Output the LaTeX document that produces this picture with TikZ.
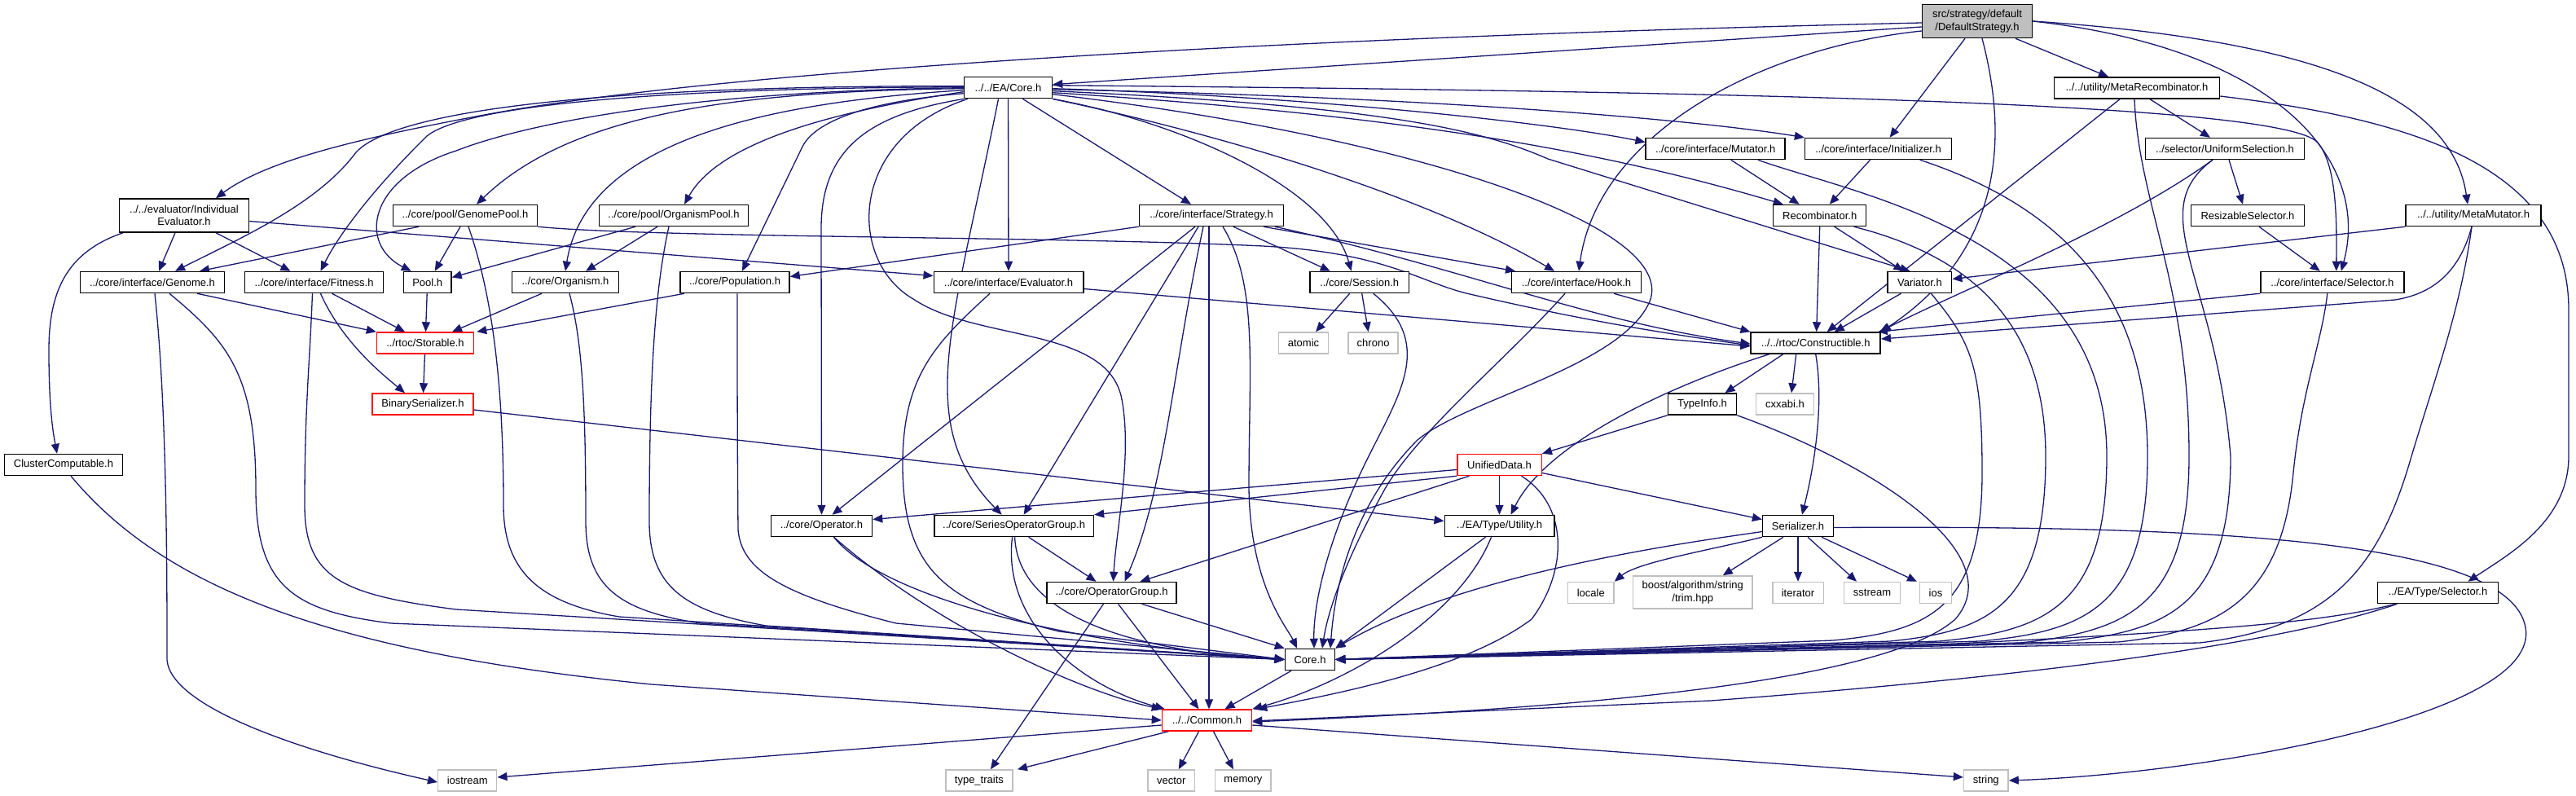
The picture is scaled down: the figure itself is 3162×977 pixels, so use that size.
\documentclass[tikz,border=0pt]{standalone}
\usepackage{fontspec}
\setmainfont{Liberation Sans}
\usetikzlibrary{arrows.meta}
\definecolor{edgeblue}{HTML}{191970}
\definecolor{greyline}{HTML}{BFBFBF}
\definecolor{rootgrey}{HTML}{BFBFBF}
\pgfdeclarelayer{bg}
\pgfsetlayers{bg,main}
\tikzset{
 hbox/.style={draw=black, line width=1.5pt, fill=white, inner sep=0pt, minimum height=26pt, font=\fontsize{13}{15.5}\selectfont, align=center, text=black},
 gbox/.style={hbox, draw=greyline},
 rbox/.style={hbox, draw=red},
 rootbox/.style={hbox, fill=rootgrey},
 dep/.style={draw=edgeblue, line width=1.3pt, -{Triangle[length=12pt,width=10pt]}},
}
\begin{document}
\begin{tikzpicture}[x=1pt,y=-1pt]
\useasboundingbox (0,0) rectangle (3162,977);
% ---------------- nodes
\node[rootbox, minimum width=135pt, minimum height=41pt] (root) at (2427,26) {src/strategy/default\\/DefaultStrategy.h};
\node[hbox, minimum width=108pt] (eacore) at (1237.5,107.7) {../../EA/Core.h};
\node[hbox, minimum width=203pt] (metarec) at (2623,108) {../../utility/MetaRecombinator.h};
\node[hbox, minimum width=159pt, minimum height=41pt] (ie) at (226,264.5) {../../evaluator/Individual\\Evaluator.h};
\node[hbox, minimum width=177pt] (genomepool) at (571,264.5) {../core/pool/GenomePool.h};
\node[hbox, minimum width=183pt] (orgpool) at (827,264.5) {../core/pool/OrganismPool.h};
\node[hbox, minimum width=177pt] (strategy) at (1487,264.5) {../core/interface/Strategy.h};
\node[hbox, minimum width=171pt] (mutator) at (2105.7,182.5) {../core/interface/Mutator.h};
\node[hbox, minimum width=180pt] (init) at (2305.6,182.5) {../core/interface/Initializer.h};
\node[hbox, minimum width=195pt] (unisel) at (2731,182.5) {../selector/UniformSelection.h};
\node[hbox, minimum width=114pt] (recomb) at (2233.7,264.5) {Recombinator.h};
\node[hbox, minimum width=139pt] (ressel) at (2759,264.5) {ResizableSelector.h};
\node[hbox, minimum width=166pt] (metamut) at (3036,264.5) {../../utility/MetaMutator.h};
\node[hbox, minimum width=177pt] (genome) at (187,346.5) {../core/interface/Genome.h};
\node[hbox, minimum width=170pt] (fitness) at (385.5,346.5) {../core/interface/Fitness.h};
\node[hbox, minimum width=58.5pt] (pool) at (524.7,346.5) {Pool.h};
\node[hbox, minimum width=131pt] (organism) at (694,346.5) {../core/Organism.h};
\node[hbox, minimum width=134pt] (population) at (902,346.5) {../core/Population.h};
\node[hbox, minimum width=183.5pt] (evaluator) at (1238,346.5) {../core/interface/Evaluator.h};
\node[hbox, minimum width=121.6pt] (session) at (1668.7,346.5) {../core/Session.h};
\node[hbox, minimum width=158.6pt] (hook) at (1935,346.5) {../core/interface/Hook.h};
\node[hbox, minimum width=78.6pt] (variator) at (2356.4,346.5) {Variator.h};
\node[hbox, minimum width=176pt] (csel) at (2862.8,346.5) {../core/interface/Selector.h};
\node[rbox, minimum width=119pt] (storable) at (522,421) {../rtoc/Storable.h};
\node[gbox, minimum width=61pt] (atomic) at (1600,421) {atomic};
\node[gbox, minimum width=61pt] (chrono) at (1685.6,421) {chrono};
\node[hbox, minimum width=159pt] (constr) at (2228.7,421) {../../rtoc/Constructible.h};
\node[rbox, minimum width=124pt] (binser) at (519,496) {BinarySerializer.h};
\node[hbox, minimum width=84pt] (typeinfo) at (2089.5,496) {TypeInfo.h};
\node[gbox, minimum width=70.6pt] (cxxabi) at (2191,496) {cxxabi.h};
\node[hbox, minimum width=145pt] (cluster) at (78,570.5) {ClusterComputable.h};
\node[rbox, minimum width=103.5pt] (unified) at (1840.5,570.5) {UnifiedData.h};
\node[hbox, minimum width=124pt] (operator) at (1008.5,645.5) {../core/Operator.h};
\node[hbox, minimum width=195.6pt] (seriesop) at (1244.6,645.5) {../core/SeriesOperatorGroup.h};
\node[hbox, minimum width=134.5pt] (utility) at (1840.5,645.5) {../EA/Type/Utility.h};
\node[hbox, minimum width=86.7pt] (serializer) at (2207,645.5) {Serializer.h};
\node[hbox, minimum width=148pt] (easel) at (2992.5,727.5) {../EA/Type/Selector.h};
\node[hbox, minimum width=158.6pt] (opgroup) at (1364.5,727.5) {../core/OperatorGroup.h};
\node[gbox, minimum width=56.5pt] (locale) at (1952.8,727.5) {locale};
\node[gbox, minimum width=146.5pt, minimum height=40pt] (boost) at (2077.7,727) {boost/algorithm/string\\/trim.hpp};
\node[gbox, minimum width=62.5pt] (iterator) at (2207,727.5) {iterator};
\node[gbox, minimum width=69pt] (sstream) at (2298,727.5) {sstream};
\node[gbox, minimum width=39pt] (ios) at (2376,727.5) {ios};
\node[hbox, minimum width=61pt] (rcore) at (1608,809.5) {Core.h};
\node[rbox, minimum width=110pt] (common) at (1481.5,884) {../../Common.h};
\node[gbox, minimum width=72pt] (iostream) at (573.7,958) {iostream};
\node[gbox, minimum width=82pt] (typetraits) at (1201.9,958) {type\_traits};
\node[gbox, minimum width=57.8pt] (vector) at (1437.8,958) {vector};
\node[gbox, minimum width=68.6pt] (memory) at (1525.9,958) {memory};
\node[gbox, minimum width=54.5pt] (string) at (2437.8,958) {string};
% ---------------- edges
\begin{pgfonlayer}{bg}
\fill[white] (0,0) rectangle (3162,977);
% root
\path[dep] ([yshift=-7pt]root.west) -- ([yshift=4pt]eacore.east);
\path[dep] ([yshift=-2pt]root.west) .. controls (1600,45) and (900,85) .. (600,140) .. controls (450,168) and (330,195) .. ([xshift=39pt]ie.north);
\path[dep] ([xshift=-15pt]root.south) -- ([xshift=14pt]init.north);
\path[dep] ([xshift=47pt]root.south) -- ([xshift=-35pt]metarec.north);
\path[dep] ([xshift=6pt]root.south) .. controls (2460,150) and (2470,300) .. (constr.north east);
\path[dep] (root.east) .. controls (2800,60) and (2910,200) .. ([xshift=11pt]csel.north);
\path[dep] (root.east) .. controls (2850,50) and (3010,120) .. ([xshift=-7pt]metamut.north);
\path[dep] ([yshift=-12pt]root.west) .. controls (2150,60) and (1960,170) .. ([xshift=3pt]hook.north);
% metarecombinator
\path[dep] ([xshift=-21pt]metarec.south) -- ([xshift=14pt]constr.north);
\path[dep] ([xshift=16pt]metarec.south) -- ([xshift=-18pt]unisel.north);
\path[dep] ([yshift=-10pt]metarec.east) .. controls (2950,145) and (3153,200) .. (3153,380) -- (3153,560) .. controls (3153,640) and (3080,680) .. ([xshift=37pt]easel.north);
\path[dep] ([xshift=-3pt]metarec.south) .. controls (2625,250) and (2687,350) .. (2687,560) .. controls (2687,745) and (2610,775) .. (2480,789) -- (rcore.east);
% metamutator
\path[dep] (metamut.south west) -- ([yshift=4pt]variator.east);
\path[dep] ([xshift=-2pt]metamut.south) .. controls (3020,330) and (2990,360) .. (2940,368) -- ([yshift=5pt]constr.east);
\path[dep] ([xshift=-2pt]metamut.south) .. controls (3020,380) and (2990,460) .. (2960,560) .. controls (2920,700) and (2860,770) .. (2700,789) -- (rcore.east);
% uniform selection / resizable / selector
\path[dep] ([xshift=5pt]unisel.south) -- ([xshift=-6pt]ressel.north);
\path[dep] ([xshift=-15pt]unisel.south) .. controls (2600,280) and (2420,350) .. ([xshift=-2pt]constr.north east);
\path[dep] ([xshift=-15pt]unisel.south) .. controls (2630,260) and (2720,340) .. (2738,560) .. controls (2738,745) and (2660,775) .. (2530,788) -- (rcore.east);
\path[dep] ([xshift=14pt]ressel.south) -- ([xshift=-15pt]csel.north);
\path[dep] (csel.south west) -- ([xshift=-4pt]constr.north east);
\path[dep] ([xshift=-6pt]csel.south) .. controls (2850,420) and (2825,480) .. (2815,580) .. controls (2800,740) and (2720,775) .. (2600,788) -- (rcore.east);
% initializer / mutator / recombinator / variator
\path[dep] ([xshift=-10pt]init.south) -- ([xshift=12pt]recomb.north);
\path[dep] ([xshift=51pt]init.south) .. controls (2550,260) and (2636,380) .. (2636,560) .. controls (2636,745) and (2560,775) .. (2430,787) -- (rcore.east);
\path[dep] ([xshift=19pt]mutator.south) -- ([xshift=-25pt]recomb.north);
\path[dep] ([xshift=52pt]mutator.south) .. controls (2280,240) and (2586,290) .. (2586,560) .. controls (2586,745) and (2510,775) .. (2380,787) -- (rcore.east);
\path[dep] (recomb.south) -- ([xshift=1pt]constr.north);
\path[dep] ([xshift=18pt]recomb.south) -- ([xshift=-20pt]variator.north);
\path[dep] ([xshift=42pt]recomb.south) .. controls (2400,310) and (2511,380) .. (2511,560) .. controls (2511,745) and (2440,775) .. (2320,787) -- (rcore.east);
\path[dep] ([xshift=-23pt]variator.south) -- ([xshift=23pt]constr.north);
\path[dep] ([xshift=14pt]variator.south) .. controls (2420,420) and (2433,450) .. (2433,580) .. controls (2433,745) and (2370,775) .. (2250,786) -- (rcore.east);
% EA core, left side
\path[dep] ([yshift=2pt]eacore.west) .. controls (700,105) and (480,140) .. (437,187) .. controls (390,250) and (300,290) .. ([xshift=28pt]genome.north);
\path[dep] ([yshift=1pt]eacore.west) .. controls (800,108) and (570,130) .. (524,167) .. controls (470,220) and (420,280) .. ([xshift=8pt]fitness.north);
\path[dep] (eacore.west) .. controls (850,112) and (650,150) .. (560,185) .. controls (450,220) and (440,300) .. ([xshift=-20pt]pool.north);
\path[dep] ([yshift=-1pt]eacore.west) .. controls (900,112) and (700,140) .. ([xshift=14pt]genomepool.north);
\path[dep] ([yshift=-3pt]eacore.west) .. controls (950,125) and (720,170) .. (organism.north);
\path[dep] ([yshift=-5pt]eacore.west) .. controls (1000,140) and (880,180) .. ([xshift=13pt]orgpool.north);
\path[dep] ([yshift=-7pt]eacore.west) .. controls (1060,125) and (1000,150) .. (985,180) -- ([xshift=9pt]population.north);
\path[dep] (eacore.south west) .. controls (1070,140) and (1008,180) .. (1008,280) -- (operator.north);
\path[dep] ([xshift=5pt]eacore.south west) .. controls (1040,170) and (1040,320) .. (1121,367) .. controls (1200,420) and (1360,400) .. (1377,490) .. controls (1390,560) and (1370,650) .. ([xshift=2pt]opgroup.north);
\path[dep] ([xshift=-12pt]eacore.south) .. controls (1170,400) and (1120,520) .. ([xshift=-15pt]seriesop.north);
\path[dep] (eacore) -- (evaluator);
\path[dep] ([xshift=18pt]eacore.south) -- ([xshift=-25pt]strategy.north);
% EA core, right side
\path[dep] (eacore.south east) .. controls (1450,150) and (1630,230) .. ([xshift=-10pt]session.north);
\path[dep] (eacore.south east) .. controls (1500,165) and (1750,240) .. ([xshift=-27pt]hook.north);
\path[dep] ([yshift=-1pt]eacore.east) .. controls (1600,118) and (1900,150) .. ([yshift=8pt]mutator.west);
\path[dep] ([yshift=-2pt]eacore.east) .. controls (1800,120) and (2100,150) .. (init.north west);
\path[dep] ([yshift=-6pt]eacore.east) .. controls (1700,140) and (1950,180) .. ([xshift=-45pt]recomb.north);
\path[dep] ([yshift=-4pt]eacore.east) .. controls (1700,130) and (1820,160) .. (1900,195) -- ([xshift=-12pt]variator.north);
\path[dep] ([yshift=3pt]eacore.east) .. controls (2100,112) and (2800,125) .. (2845,175) .. controls (2870,205) and (2868,280) .. ([xshift=5pt]csel.north);
\path[dep] ([yshift=-8pt]eacore.east) .. controls (1750,170) and (2060,280) .. (2025,370) .. controls (1990,450) and (1800,490) .. (1740,540) .. controls (1670,610) and (1640,700) .. ([xshift=25pt]rcore.north);
% individual evaluator
\path[dep] ([xshift=-11pt]ie.south) -- ([xshift=8pt]genome.north);
\path[dep] ([xshift=39pt]ie.south) -- ([xshift=-29pt]fitness.north);
\path[dep] ([yshift=-7pt]ie.east) -- ([yshift=8pt]evaluator.west);
\path[dep] ([xshift=-75pt]ie.south) .. controls (80,310) and (60,360) .. (60,430) .. controls (60,500) and (65,530) .. ([xshift=-8pt]cluster.north);
% pools
\path[dep] ([xshift=-57pt]genomepool.south) -- ([xshift=58pt]genome.north);
\path[dep] ([xshift=-6pt]genomepool.south) -- ([xshift=9pt]pool.north);
\path[dep] (genomepool.south east) .. controls (800,292) and (1300,290) .. (1550,302) .. controls (1700,310) and (1740,345) .. (1800,360) .. controls (1950,395) and (2050,410) .. ([yshift=-3pt]constr.west);
\path[dep] ([xshift=4pt]genomepool.south) .. controls (600,350) and (618,450) .. (618,620) .. controls (618,700) and (660,740) .. (760,757) -- (rcore.west);
\path[dep] ([xshift=-47pt]orgpool.south) -- ([yshift=6pt]pool.east);
\path[dep] ([xshift=-20pt]orgpool.south) -- ([xshift=25pt]organism.north);
\path[dep] ([xshift=-6pt]orgpool.south) .. controls (805,350) and (797,450) .. (797,640) .. controls (797,720) and (840,750) .. (940,768) -- (rcore.west);
% genome / fitness / pool / organism / population
\path[dep] ([xshift=55pt]genome.south) -- (storable.north west);
\path[dep] ([xshift=3pt]genome.south) .. controls (205,500) and (205,700) .. (205,810) .. controls (210,870) and (380,925) .. ([yshift=-2pt]iostream.west);
\path[dep] ([xshift=21pt]genome.south) .. controls (280,420) and (314,460) .. (314,600) .. controls (314,720) and (360,750) .. (480,765) -- (rcore.west);
\path[dep] ([xshift=22pt]fitness.south) -- ([xshift=-25pt]storable.north);
\path[dep] ([xshift=8pt]fitness.south) .. controls (420,420) and (470,460) .. ([xshift=-22pt]binser.north);
\path[dep] ([xshift=-2pt]fitness.south) .. controls (380,450) and (374,500) .. (374,620) .. controls (374,710) and (420,730) .. (560,748) -- (rcore.west);
\path[dep] (pool) -- (storable);
\path[dep] ([xshift=-29pt]organism.south) -- ([xshift=33pt]storable.north);
\path[dep] ([xshift=5pt]organism.south) .. controls (715,420) and (719,500) .. (719,640) .. controls (719,720) and (760,750) .. (860,765) -- (rcore.west);
\path[dep] ([xshift=-62pt]population.south) -- ([xshift=3pt]storable.north east);
\path[dep] ([xshift=3pt]population.south) .. controls (905,450) and (905,550) .. (906,650) .. controls (910,700) and (960,730) .. (1100,765) -- (rcore.west);
\path[dep] (storable) -- (binser);
\path[dep] ([yshift=-7pt]binser.east) -- ([yshift=6pt]utility.west);
\path[dep] ([xshift=9pt]cluster.south) .. controls (200,720) and (400,800) .. (800,840) -- (common.west);
% evaluator
\path[dep] ([yshift=-8pt]evaluator.east) -- ([yshift=-4pt]constr.west);
\path[dep] ([xshift=-23pt]evaluator.south) .. controls (1150,420) and (1108,460) .. (1108,570) .. controls (1108,700) and (1160,740) .. (1300,775) -- (rcore.west);
% strategy
\path[dep] (strategy.south west) -- ([yshift=7pt]population.east);
\path[dep] ([xshift=-20pt]strategy.south) -- ([xshift=13pt]operator.north);
\path[dep] ([xshift=-16pt]strategy.south) -- ([xshift=12pt]seriesop.north);
\path[dep] ([xshift=-10pt]strategy.south) .. controls (1440,450) and (1430,600) .. ([xshift=16pt]opgroup.north);
\path[dep] ([xshift=-3pt]strategy.south) -- ([xshift=2.5pt]common.north);
\path[dep] ([xshift=14pt]strategy.south) .. controls (1545,350) and (1533,450) .. (1533,600) .. controls (1535,720) and (1580,770) .. ([xshift=-16pt]rcore.north);
\path[dep] ([xshift=27pt]strategy.south) -- ([xshift=-36pt]session.north);
\path[dep] ([xshift=64pt]strategy.south) -- ([xshift=-75pt]hook.north);
\path[dep] ([xshift=78pt]strategy.south) .. controls (1800,330) and (1950,395) .. ([yshift=-1pt]constr.west);
% session / hook
\path[dep] ([xshift=-12pt]session.south) -- ([xshift=15pt]atomic.north);
\path[dep] ([xshift=3pt]session.south) -- ([xshift=-6pt]chrono.north);
\path[dep] ([xshift=17pt]session.south) .. controls (1760,420) and (1720,480) .. (1680,560) .. controls (1630,660) and (1612,740) .. ([xshift=5pt]rcore.north);
\path[dep] ([xshift=46pt]hook.south) -- (constr.north west);
\path[dep] ([xshift=-14pt]hook.south) .. controls (1850,440) and (1740,530) .. (1700,600) .. controls (1650,690) and (1630,750) .. ([xshift=15pt]rcore.north);
% constructible
\path[dep] ([xshift=-40pt]constr.south) -- ([xshift=28pt]typeinfo.north);
\path[dep] ([xshift=-24pt]constr.south) -- ([xshift=8pt]cxxabi.north);
\path[dep] (constr.south) .. controls (2240,500) and (2225,580) .. ([xshift=5pt]serializer.north);
\path[dep] ([xshift=-57pt]constr.south) .. controls (2060,470) and (1900,540) .. ([xshift=14pt]utility.north);
% typeinfo / unified
\path[dep] (typeinfo.south west) -- (unified.north east);
\path[dep] (typeinfo.south east) .. controls (2300,570) and (2470,680) .. (2400,760) .. controls (2300,850) and (1800,875) .. ([yshift=-2pt]common.east);
\path[dep] ([yshift=-6pt]unified.west) -- ([yshift=8pt]operator.east);
\path[dep] (unified.south west) -- (seriesop.north east);
\path[dep] ([xshift=-37pt]unified.south) -- ([xshift=35pt]opgroup.north);
\path[dep] (unified) -- (utility);
\path[dep] ([xshift=27pt]unified.south) .. controls (1925,620) and (1925,700) .. (1880,760) .. controls (1800,820) and (1650,850) .. ([xshift=6pt]common.north east);
\path[dep] ([yshift=-10pt]unified.east) -- ([yshift=8pt]serializer.west);
% serializer
\path[dep] (serializer.south west) .. controls (2100,675) and (2010,690) .. (locale.north east);
\path[dep] ([yshift=-7pt]serializer.west) .. controls (2100,662) and (1800,700) .. (rcore.north east);
\path[dep] ([xshift=-18pt]serializer.south) -- ([xshift=37pt]boost.north);
\path[dep] (serializer) -- (iterator);
\path[dep] ([xshift=12pt]serializer.south) -- ([xshift=-19pt]sstream.north);
\path[dep] ([xshift=29pt]serializer.south) -- ([xshift=-23pt]ios.north);
\path[dep] ([yshift=-2pt]serializer.east) .. controls (2700,645) and (3080,660) .. (3100,770) .. controls (3120,880) and (2700,950) .. (string.east);
% utility
\path[dep] ([xshift=-17pt]utility.south) -- (rcore.north east);
\path[dep] ([xshift=-10pt]utility.south) .. controls (1790,760) and (1650,840) .. (common.north east);
% EA type selector
\path[dep] ([xshift=-52pt]easel.south) .. controls (2850,765) and (2700,775) .. (2400,790) -- (rcore.east);
\path[dep] ([xshift=-50pt]easel.south) .. controls (2800,790) and (2500,830) .. (2100,860) -- ([yshift=-1pt]common.east);
% operators
\path[dep] ([xshift=15pt]operator.south) .. controls (1080,730) and (1300,790) .. (rcore.west);
\path[dep] ([xshift=15pt]operator.south) .. controls (1150,770) and (1330,850) .. (common.north west);
\path[dep] ([xshift=18pt]seriesop.south) -- ([xshift=-19pt]opgroup.north);
\path[dep] ([xshift=-2pt]seriesop.south) .. controls (1230,760) and (1320,840) .. ([xshift=4pt]common.north west);
\path[dep] ([xshift=1pt]seriesop.south) .. controls (1250,760) and (1400,800) .. (rcore.west);
\path[dep] ([xshift=-10pt]opgroup.south) -- ([xshift=14pt]typetraits.north);
\path[dep] ([xshift=8pt]opgroup.south) -- ([xshift=-10pt]common.north);
\path[dep] ([xshift=37pt]opgroup.south) -- (rcore.north west);
% core.h and common
\path[dep] ([xshift=-23pt]rcore.south) -- ([xshift=22pt]common.north);
\path[dep] ([xshift=-47pt]common.south) -- ([xshift=47pt]typetraits.north);
\path[dep] ([xshift=-10pt]common.south) -- ([xshift=9pt]vector.north);
\path[dep] ([xshift=8pt]common.south) -- ([xshift=-12pt]memory.north);
\path[dep] ([yshift=-6pt]common.east) -- ([yshift=4pt]string.west);
\path[dep] ([yshift=-6pt]common.west) -- ([yshift=4pt]iostream.east);
\end{pgfonlayer}
\end{tikzpicture}
\end{document}
